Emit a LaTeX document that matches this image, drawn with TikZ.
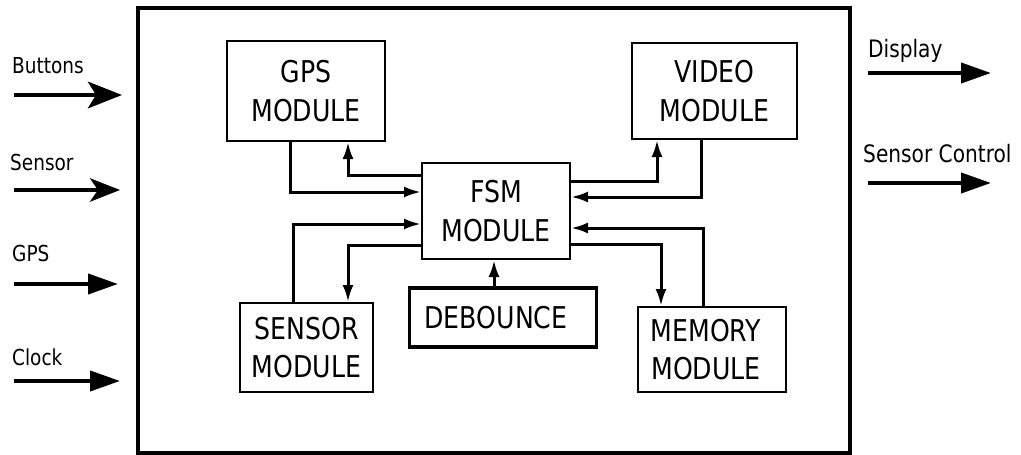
\documentclass[tikz,border=0pt]{standalone}
\usepackage{fontspec}
\setmainfont{DejaVu Sans}[FakeStretch=0.84]
\usetikzlibrary{arrows.meta}
\begin{document}
\begin{tikzpicture}[x=1pt,y=-1pt,
  blk/.style={draw, line width=2pt, align=center, font=\fontsize{30}{38.5}\selectfont, inner sep=0pt},
  conn/.style={line width=3pt, -{Latex[length=17pt,width=11pt]}},
  lbl/.style={anchor=base west, inner sep=0pt, font=\fontsize{22}{26}\selectfont},
  rlbl/.style={anchor=base west, inner sep=0pt, font=\fontsize{24}{28}\selectfont},
  stealthio/.style={-{Stealth[length=#1pt,width=0.78*#1pt,inset=8pt]}},
  triio/.style={line width=4pt, -{Triangle[length=30pt,width=20pt]}}
 ]
\useasboundingbox (0,0) rectangle (1021,455);
% outer system box
\node[draw, line width=4pt, minimum width=712pt, minimum height=445pt, inner sep=0pt] (sys) at (494,230.5) {};
% blocks
\node[blk, minimum width=158pt, minimum height=100pt] (gps) at (306,91) {GPS\\MODULE};
\node[blk, minimum width=165pt, minimum height=96pt] (vid) at (714.5,91) {VIDEO\\MODULE};
\node[blk, minimum width=148pt, minimum height=96pt] (fsm) at (496,211) {FSM\\MODULE};
\node[blk, minimum width=133pt, minimum height=89pt] (sen) at (306.5,347.5) {SENSOR\\MODULE};
\node[blk, line width=3.5pt, minimum width=187pt, minimum height=59pt] (deb) at (503,317.5) {\hspace*{-14pt}DEBOUNCE};
\node[blk, minimum width=148pt, minimum height=85pt] (mem) at (712,349.5) {\hspace*{-12pt}MEMORY\\\hspace*{-12pt}MODULE};
% internal connectors
\coordinate (k1) at (290,192);
\draw[conn] (gps.south -| k1) |- (fsm.west |- k1);
\coordinate (k2) at (348,175);
\draw[conn] (fsm.west |- k2) -| (gps.south -| k2);
\coordinate (k3) at (293,224);
\draw[conn] (sen.north -| k3) |- (fsm.west |- k3);
\coordinate (k4) at (348,245);
\draw[conn] (fsm.west |- k4) -| (sen.north -| k4);
\coordinate (k5) at (657,181);
\draw[conn] (fsm.east |- k5) -| (vid.south -| k5);
\coordinate (k6) at (701,197);
\draw[conn] (vid.south -| k6) |- (fsm.east |- k6);
\coordinate (k7) at (703,228);
\draw[conn] (mem.north -| k7) |- (fsm.east |- k7);
\coordinate (k8) at (661,244);
\draw[conn] (fsm.east |- k8) -| (mem.north -| k8);
\coordinate (k9) at (494,0);
\draw[conn] (deb.north -| k9) -- (fsm.south -| k9);
% inputs
\node[lbl] (lb) at (12,73) {Buttons};
\node[lbl] (ls) at (10,170) {Sensor};
\node[lbl] (lg) at (12,261) {GPS};
\node[lbl] (lc) at (12,365) {Clock};
\coordinate (b0) at (14,95);  \coordinate (b1) at (122,95);
\coordinate (s0) at (14,190); \coordinate (s1) at (120,190);
\coordinate (g0) at (14,284); \coordinate (g1) at (118,284);
\coordinate (c0) at (14,381); \coordinate (c1) at (120,381);
\draw[line width=4.5pt, stealthio=34] (b0) -- (b1);
\draw[line width=3.5pt, stealthio=30] (s0) -- (s1);
\draw[triio] (g0) -- (g1);
\draw[triio] (c0) -- (c1);
% outputs
\node[rlbl] (ld) at (868,57) {Display};
\node[rlbl] (lsc) at (863,162) {Sensor Control};
\coordinate (d0) at (868,73);  \coordinate (d1) at (991,73);
\coordinate (e0) at (868,183); \coordinate (e1) at (991,183);
\draw[triio] (d0) -- (d1);
\draw[triio] (e0) -- (e1);
\end{tikzpicture}
\end{document}
